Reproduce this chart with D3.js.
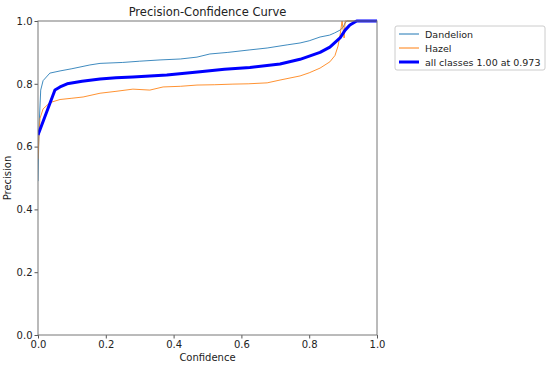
<!DOCTYPE html>
<html><head><meta charset="utf-8">
<script src="https://cdn.jsdelivr.net/npm/d3@7"></script>
<style>
body{margin:0;background:#fff;}
svg{font-family:"DejaVu Sans",sans-serif;}
</style></head>
<body><svg id="chart" width="550" height="365"></svg>
<script>
const title = "Precision-Confidence Curve";
const xLabel = "Confidence";
const yLabel = "Precision";
const ticks = [0, 0.2, 0.4, 0.6, 0.8, 1.0];

const seriesNames = ["Dandelion", "Hazel", "all classes 1.00 at 0.973"];

const dandelionConf = [0, 0.003, 0.008, 0.015, 0.035, 0.065, 0.1, 0.153, 0.183, 0.25, 0.3, 0.36, 0.42, 0.469, 0.507, 0.56, 0.625, 0.676, 0.735, 0.773, 0.8, 0.832, 0.86, 0.875, 0.891, 0.9, 0.906, 0.912, 1.0];
const dandelionPrec = [0.49, 0.66, 0.78, 0.81, 0.834, 0.841, 0.848, 0.86, 0.865, 0.868, 0.872, 0.876, 0.879, 0.885, 0.895, 0.9, 0.908, 0.914, 0.924, 0.93, 0.937, 0.949, 0.955, 0.962, 0.971, 0.98, 0.994, 1.0, 1.0];

const hazelConf = [0, 0.003, 0.006, 0.015, 0.035, 0.065, 0.1, 0.133, 0.183, 0.23, 0.28, 0.33, 0.369, 0.42, 0.469, 0.52, 0.575, 0.62, 0.676, 0.714, 0.773, 0.8, 0.832, 0.861, 0.876, 0.885, 0.891, 0.897, 0.903, 0.906, 1.0];
const hazelPrec = [0.56, 0.64, 0.69, 0.72, 0.74, 0.75, 0.754, 0.758, 0.77, 0.776, 0.783, 0.78, 0.79, 0.792, 0.796, 0.797, 0.799, 0.8, 0.803, 0.812, 0.825, 0.835, 0.85, 0.87, 0.89, 0.92, 0.955, 1.0, 0.946, 1.0, 1.0];

const allConf = [0, 0.05, 0.065, 0.086, 0.13, 0.183, 0.23, 0.28, 0.38, 0.478, 0.55, 0.625, 0.714, 0.773, 0.832, 0.861, 0.891, 0.906, 0.92, 0.94, 1.0];
const allPrec = [0.637, 0.78, 0.79, 0.80, 0.808, 0.815, 0.819, 0.822, 0.828, 0.838, 0.846, 0.852, 0.863, 0.878, 0.9, 0.917, 0.946, 0.971, 0.987, 1.0, 1.0];

const colors = ["#1f77b4", "#ff7f0e", "#0000ff"];
const widths = [1, 1, 3];

const svg = d3.select("#chart");
const m = {left: 38, top: 21, right: 173, bottom: 30};
const W = 550 - m.left - m.right, H = 365 - m.top - m.bottom;
const x = d3.scaleLinear().domain([0, 1]).range([m.left, m.left + W]);
const y = d3.scaleLinear().domain([0, 1]).range([m.top + H, m.top]);

const clip = svg.append("clipPath").attr("id", "clip").append("rect")
  .attr("x", m.left).attr("y", m.top - 2).attr("width", W).attr("height", H + 2);

const series = [
  {conf: dandelionConf, prec: dandelionPrec},
  {conf: hazelConf, prec: hazelPrec},
  {conf: allConf, prec: allPrec}
];
const line = d3.line().x(d => x(d[0])).y(d => y(d[1]));
const g = svg.append("g").attr("clip-path", "url(#clip)");
series.forEach((s, i) => {
  const pts = s.conf.map((c, j) => [c, s.prec[j]]);
  g.append("path").attr("d", line(pts)).attr("fill", "none")
    .attr("stroke", colors[i]).attr("stroke-width", widths[i])
    .attr("opacity", i < 2 ? 0.85 : 1).attr("stroke-linejoin", "round");
});

const fmt = d3.format(".1f");
const xa = svg.append("g").attr("transform", `translate(0,${m.top + H})`)
  .call(d3.axisBottom(x).tickValues(ticks).tickFormat(fmt).tickSize(3.5).tickPadding(2));
const ya = svg.append("g").attr("transform", `translate(${m.left},0)`)
  .call(d3.axisLeft(y).tickValues(ticks).tickFormat(fmt).tickSize(3.5).tickPadding(2));
[xa, ya].forEach(a => {
  a.select(".domain").remove();
  a.selectAll("line").attr("stroke", "#555");
  a.selectAll("text").attr("font-size", 10).attr("fill", "#222")
    .attr("font-family", "DejaVu Sans");
});
svg.append("rect").attr("x", m.left).attr("y", m.top).attr("width", W).attr("height", H)
  .attr("fill", "none").attr("stroke", "#777").attr("stroke-width", 1);

svg.append("text").attr("x", m.left + W / 2).attr("y", 16).attr("text-anchor", "middle")
  .attr("font-size", 11.5).attr("fill", "#222").text(title);
svg.append("text").attr("x", m.left + W / 2).attr("y", 361).attr("text-anchor", "middle")
  .attr("font-size", 10).attr("fill", "#222").text(xLabel);
svg.append("text").attr("transform", `translate(11,${m.top + H / 2}) rotate(-90)`)
  .attr("text-anchor", "middle").attr("font-size", 10).attr("fill", "#222").text(yLabel);

const lg = svg.append("g").attr("transform", "translate(395,26)");
lg.append("rect").attr("width", 150).attr("height", 44).attr("rx", 2)
  .attr("fill", "#fff").attr("stroke", "#ccc");
seriesNames.forEach((n, i) => {
  const yy = 8 + i * 14;
  lg.append("line").attr("x1", 4).attr("x2", 24).attr("y1", yy).attr("y2", yy)
    .attr("stroke", colors[i]).attr("stroke-width", widths[i]);
  lg.append("text").attr("x", 30).attr("y", yy + 3.5).attr("font-size", 9.5)
    .attr("fill", "#222").text(n);
});
</script></body></html>
